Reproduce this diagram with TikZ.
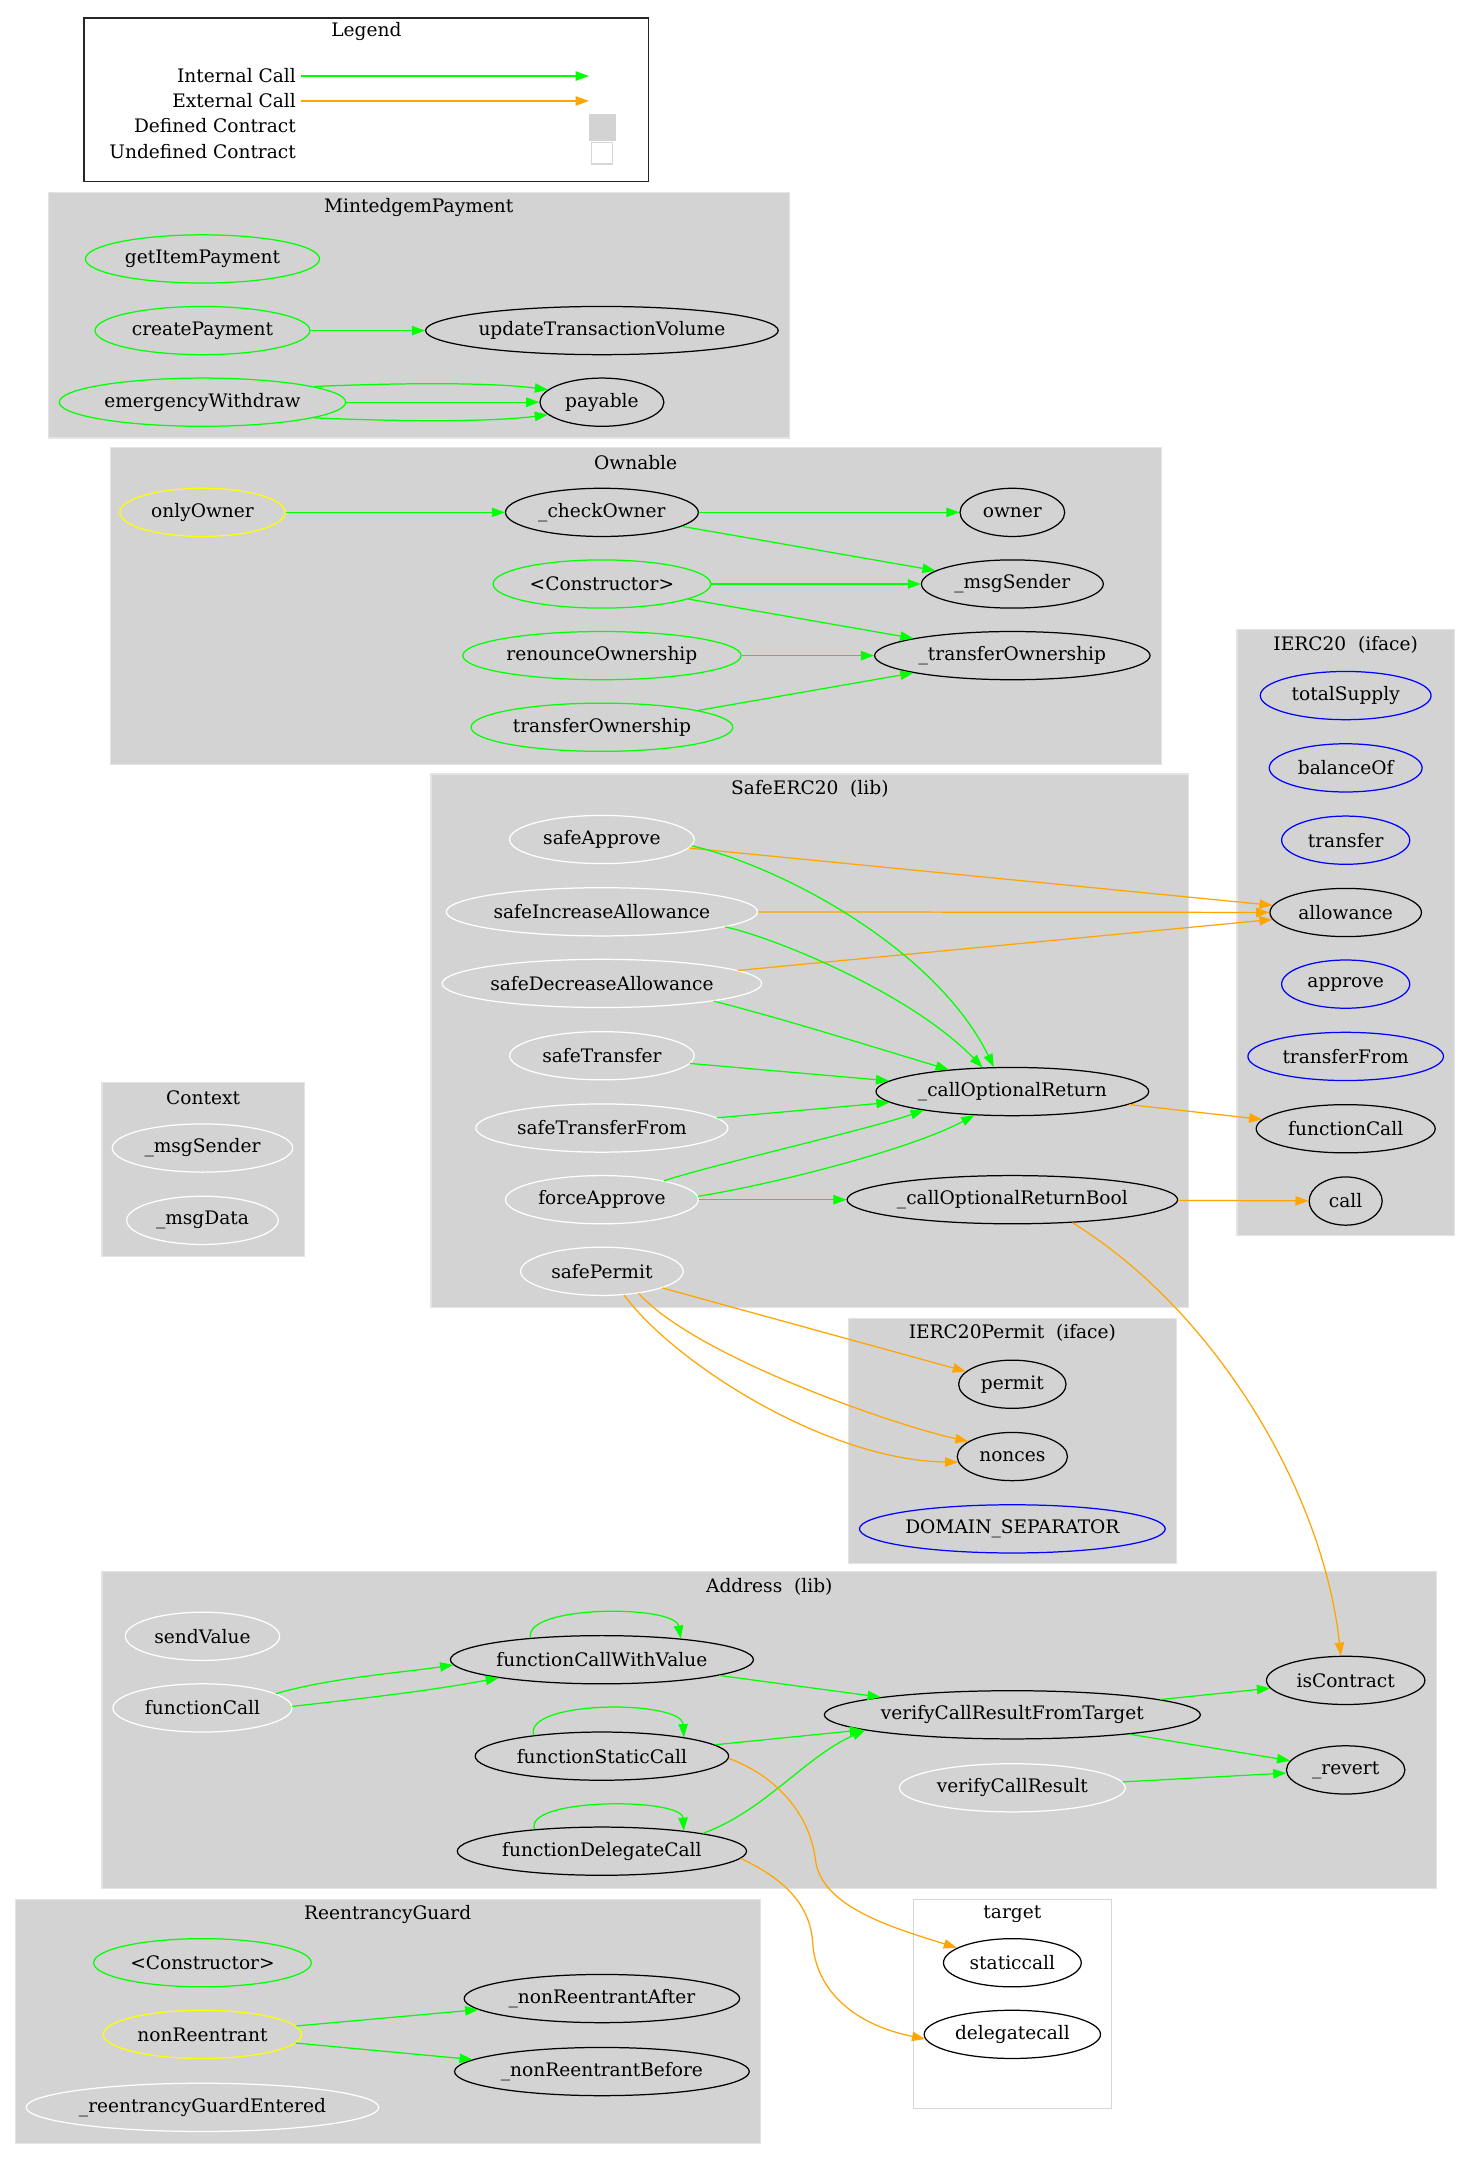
\documentclass[tikz,border=0pt]{standalone}
\usepackage{fontspec}
\setmainfont{DejaVu Serif}
\usetikzlibrary{shapes.geometric,arrows.meta,calc}
\definecolor{gvgreen}{RGB}{0,255,0}
\definecolor{gvorange}{RGB}{255,165,0}
\definecolor{gvyellow}{RGB}{255,255,0}
\definecolor{gvblue}{RGB}{0,0,255}
\definecolor{gvgray}{RGB}{211,211,211}
\definecolor{gvedge}{RGB}{228,228,228}
\definecolor{gvbox}{RGB}{215,215,215}
\newcommand{\gvfont}{\fontsize{13.5}{16}\selectfont}
\begin{document}
\begin{tikzpicture}[x=1pt,y=-1pt,
  fn/.style={ellipse, draw=black, line width=0.9pt, inner xsep=-6pt, inner ysep=-3pt,
             minimum height=35pt, font=\gvfont, text=black},
  gre/.style={draw=gvgreen}, yel/.style={draw=gvyellow}, blu/.style={draw=gvblue}, wht/.style={draw=white},
  ic/.style={draw=gvgreen, line width=0.9pt, -{Triangle[length=9.5pt,width=6.8pt,fill=gvgreen]}},
  ec/.style={draw=gvorange, line width=0.9pt, -{Triangle[length=9.5pt,width=6.8pt,fill=gvorange]}},
  cluster/.style={fill=gvgray, draw=gvedge, line width=0.9pt},
  ctitle/.style={font=\gvfont, text=black, inner sep=0pt},
  ltxt/.style={font=\gvfont, text=black, inner sep=0pt, anchor=east}]
\useasboundingbox[fill=white] (0,0) rectangle (1068,1567.5);

% ---------------- Legend
\draw[draw=black!85, line width=0.9pt] (61,13) rectangle (471,132);
\node[ctitle] (lg_title) at (266,23) {Legend};
\node[ltxt] (lg_int) at (215,55.2) {Internal Call};
\node[ltxt] (lg_ext) at (215,73.3) {External Call};
\node[ltxt] (lg_def) at (215,91.5) {Defined Contract};
\node[ltxt] (lg_undef) at (215,110.1) {Undefined Contract};
\coordinate (lg_i1) at (218.6,55.2); \coordinate (lg_i2) at (427.5,55.2);
\coordinate (lg_e1) at (218.6,73.3); \coordinate (lg_e2) at (427.5,73.3);
\draw[ic] (lg_i1) -- (lg_i2);
\draw[ec] (lg_e1) -- (lg_e2);
\node[draw=gvgray, fill=gvgray, minimum width=19pt, minimum height=18.5pt, inner sep=0pt] (lg_defbox) at (437.2,92.4) {};
\node[draw=gvbox, fill=white, line width=1pt, minimum width=15.5pt, minimum height=15.5pt, inner sep=0pt] (lg_undefbox) at (437,111.3) {};

% ---------------- clusters
\draw[cluster] (35,140) rectangle (573,318);
\node[ctitle] (t_mint) at (304,151) {MintedgemPayment};
\draw[cluster] (80,325) rectangle (843,555);
\node[ctitle] (t_own) at (461.5,336) {Ownable};
\draw[cluster] (898,457) rectangle (1056,897);
\node[ctitle] (t_ierc) at (977,468) {IERC20\ \ (iface)};
\draw[cluster] (313,562) rectangle (863,949);
\node[ctitle] (t_safe) at (588,573) {SafeERC20\ \ (lib)};
\draw[cluster] (74,786) rectangle (221,912);
\node[ctitle] (t_ctx) at (147.5,797) {Context};
\draw[cluster] (616,957) rectangle (854,1135);
\node[ctitle] (t_perm) at (735,968) {IERC20Permit\ \ (iface)};
\draw[cluster] (74,1141) rectangle (1043,1371);
\node[ctitle] (t_addr) at (558.5,1152) {Address\ \ (lib)};
\draw[cluster] (11,1379) rectangle (552,1556);
\node[ctitle] (t_reen) at (281.5,1390) {ReentrancyGuard};
\draw[fill=white, draw=gvbox, line width=0.9pt] (663,1379) rectangle (807,1531);
\node[ctitle] (t_targ) at (735,1390) {target};

% ---------------- MintedgemPayment
\node[fn, gre, minimum width=170pt] (m_get) at (147,188) {getItemPayment};
\node[fn, gre, minimum width=156pt] (m_create) at (147,240) {createPayment};
\node[fn, minimum width=256pt] (m_update) at (437,240) {updateTransactionVolume};
\node[fn, gre, minimum width=208pt] (m_emerg) at (147,292) {emergencyWithdraw};
\node[fn, minimum width=90pt] (m_payable) at (437,292) {payable};

% ---------------- Ownable
\node[fn, yel, minimum width=120pt] (o_only) at (147,372) {onlyOwner};
\node[fn, minimum width=140pt] (o_check) at (437,372) {\_checkOwner};
\node[fn, minimum width=76pt] (o_owner) at (735,372) {owner};
\node[fn, gre, minimum width=158pt] (o_ctor) at (437,424) {<Constructor>};
\node[fn, minimum width=132pt] (o_msg) at (735,424) {\_msgSender};
\node[fn, gre, minimum width=202pt] (o_renounce) at (437,476) {renounceOwnership};
\node[fn, minimum width=200pt] (o_tO) at (735,476) {\_transferOwnership};
\node[fn, gre, minimum width=190pt] (o_transfer) at (437,528) {transferOwnership};

% ---------------- SafeERC20
\node[fn, wht, minimum width=134pt] (s_approve) at (437,609.5) {safeApprove};
\node[fn, wht, minimum width=226pt] (s_inc) at (437,662) {safeIncreaseAllowance};
\node[fn, wht, minimum width=232pt] (s_dec) at (437,714) {safeDecreaseAllowance};
\node[fn, wht, minimum width=134pt] (s_transfer) at (437,766.5) {safeTransfer};
\node[fn, wht, minimum width=183pt] (s_tfrom) at (437,819) {safeTransferFrom};
\node[fn, wht, minimum width=140pt] (s_force) at (437,871) {forceApprove};
\node[fn, wht, minimum width=118pt] (s_permit) at (437,923) {safePermit};
\node[fn, minimum width=198pt] (s_cor) at (735,792.5) {\_callOptionalReturn};
\node[fn, minimum width=240pt] (s_corb) at (735,871) {\_callOptionalReturnBool};

% ---------------- IERC20
\node[fn, blu, minimum width=124pt] (i_total) at (977,505) {totalSupply};
\node[fn, blu, minimum width=111pt] (i_bal) at (977,557.5) {balanceOf};
\node[fn, blu, minimum width=93pt] (i_transfer) at (977,610) {transfer};
\node[fn, minimum width=110pt] (i_allow) at (977,662.5) {allowance};
\node[fn, blu, minimum width=93pt] (i_approve) at (977,714.5) {approve};
\node[fn, blu, minimum width=142pt] (i_tfrom) at (977,767) {transferFrom};
\node[fn, minimum width=130pt] (i_fcall) at (977,819.5) {functionCall};
\node[fn, minimum width=53pt] (i_call) at (977,872) {call};

% ---------------- Context
\node[fn, wht, minimum width=131pt] (c_msg) at (147,833.5) {\_msgSender};
\node[fn, wht, minimum width=110pt] (c_data) at (147,886) {\_msgData};

% ---------------- IERC20Permit
\node[fn, minimum width=78pt] (p_permit) at (735,1005) {permit};
\node[fn, minimum width=80pt] (p_nonces) at (735,1057.5) {nonces};
\node[fn, blu, minimum width=222pt] (p_domain) at (735,1110) {DOMAIN\_SEPARATOR};

% ---------------- Address
\node[fn, wht, minimum width=112pt] (a_send) at (147,1188) {sendValue};
\node[fn, wht, minimum width=130pt] (a_fcall) at (147,1240) {functionCall};
\node[fn, minimum width=220pt] (a_fcwv) at (437,1205) {functionCallWithValue};
\node[fn, minimum width=184pt] (a_fsc) at (437,1275) {functionStaticCall};
\node[fn, minimum width=210pt] (a_fdc) at (437,1344) {functionDelegateCall};
\node[fn, minimum width=273pt] (a_vcrft) at (735,1245) {verifyCallResultFromTarget};
\node[fn, wht, minimum width=164pt] (a_vcr) at (735,1298) {verifyCallResult};
\node[fn, minimum width=115pt] (a_isc) at (977,1220) {isContract};
\node[fn, minimum width=86pt] (a_rev) at (977,1285) {\_revert};

% ---------------- ReentrancyGuard
\node[fn, gre, minimum width=158pt] (r_ctor) at (147,1425) {<Constructor>};
\node[fn, yel, minimum width=144pt] (r_non) at (147,1477) {nonReentrant};
\node[fn, wht, minimum width=256pt] (r_guard) at (147,1530) {\_reentrancyGuardEntered};
\node[fn, minimum width=200pt] (r_after) at (437,1451) {\_nonReentrantAfter};
\node[fn, minimum width=214pt] (r_before) at (437,1504) {\_nonReentrantBefore};

% ---------------- target
\node[fn, minimum width=100pt] (t_static) at (735,1425) {staticcall};
\node[fn, minimum width=128pt] (t_deleg) at (735,1477) {delegatecall};

% ================= edges
% MintedgemPayment
\draw[ic] (m_create) -- (m_update);
\draw[ic] (m_emerg) -- (m_payable);
\draw[ic] (m_emerg.8.9) .. controls (300,277.5) and (360,278) .. (m_payable.167);
\draw[ic] (m_emerg.-8.9) .. controls (300,306.5) and (360,306) .. (m_payable.-167);

% Ownable
\draw[ic] (o_only) -- (o_check);
\draw[ic] (o_check) -- (o_owner);
\draw[ic] (o_check) -- (o_msg);
\draw[ic] (o_ctor) -- (o_msg);
\draw[ic] (o_ctor) -- (o_tO);
\draw[ic] (o_renounce) -- (o_tO);
\draw[ic] (o_transfer) -- (o_tO);

% SafeERC20
\draw[ec] (s_approve) -- (i_allow);
\draw[ec] (s_inc) -- (i_allow);
\draw[ec] (s_dec) -- (i_allow);
\draw[ic] (s_approve.-4.6) .. controls (570,630) and (680,690) .. (s_cor.127);
\draw[ic] (s_inc.-7.5) .. controls (560,680) and (660,720) .. (s_cor.141);
\draw[ic] (s_dec.-9.8) .. controls (570,740) and (640,762) .. (s_cor.161);
\draw[ic] (s_transfer) -- (s_cor);
\draw[ic] (s_tfrom) -- (s_cor);
\draw[ic] (s_force.17.7) .. controls (520,845) and (630,820) .. (s_cor.192);
\draw[ic] (s_force.2.2) .. controls (560,860) and (660,835) .. (s_cor.-148.7);
\draw[ic] (s_force) -- (s_corb);
\draw[ec] (s_cor) -- (i_fcall);
\draw[ec] (s_corb) -- (i_call);
\draw[ec] (s_corb.-21.9) .. controls (880,950) and (960,1080) .. (a_isc.101.8);
\draw[ec] (s_permit) -- (p_permit);
\draw[ec] (s_permit.-31.3) .. controls (505,985) and (650,1035) .. (p_nonces.161.6);
\draw[ec] (s_permit.-47.2) .. controls (490,990) and (600,1060) .. (p_nonces.186);

% Address
\draw[ic] (a_fcall.11.3) .. controls (240,1218) and (295,1214) .. (a_fcwv.182);
\draw[ic] (a_fcall.1.2) .. controls (255,1234) and (310,1228) .. (a_fcwv.190);
\draw[ic] (a_fcwv.163.7) .. controls (380,1165) and (490,1165) .. (a_fcwv.15.3);
\draw[ic] (a_fsc.163.2) .. controls (380,1234) and (495,1234) .. (a_fsc.13.4);
\draw[ic] (a_fdc.162.4) .. controls (380,1305) and (495,1305) .. (a_fdc.14.5);
\draw[ic] (a_fcwv) -- (a_vcrft);
\draw[ic] (a_fsc) -- (a_vcrft);
\draw[ic] (a_fdc.10.3) .. controls (555,1315) and (585,1275) .. (a_vcrft.186.3);
\draw[ic] (a_vcrft) -- (a_isc);
\draw[ic] (a_vcrft) -- (a_rev);
\draw[ic] (a_vcr) -- (a_rev);
\draw[ec] (a_fsc.-1.9) .. controls (565,1290) and (588,1318) .. (592,1350)
          .. controls (596,1385) and (650,1400) .. (t_static.165);
\draw[ec] (a_fdc.-3.5) .. controls (565,1362) and (588,1380) .. (590,1410)
          .. controls (592,1445) and (620,1470) .. (t_deleg.183.7);

% ReentrancyGuard
\draw[ic] (r_non) -- (r_after);
\draw[ic] (r_non) -- (r_before);
\end{tikzpicture}
\end{document}
